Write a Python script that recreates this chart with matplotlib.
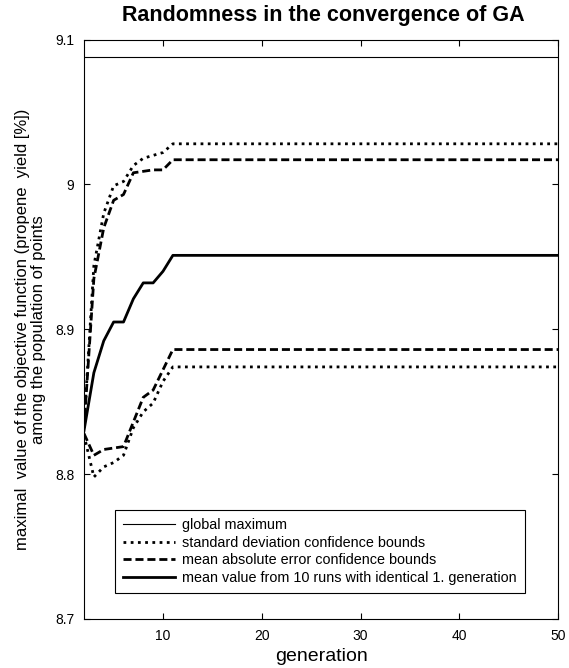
import matplotlib
matplotlib.use('Agg')
import matplotlib.pyplot as plt

# generations (the curves are flat after generation 11)
generation = [2, 3, 4, 5, 6, 7, 8, 9, 10, 11, 50]

mean_value = [8.830, 8.870, 8.892, 8.905, 8.905, 8.921, 8.932, 8.932, 8.940, 8.951, 8.951]
std_upper = [8.833, 8.944, 8.980, 8.999, 9.002, 9.013, 9.018, 9.020, 9.022, 9.028, 9.028]
std_lower = [8.827, 8.798, 8.805, 8.808, 8.813, 8.832, 8.843, 8.849, 8.864, 8.874, 8.874]
mae_upper = [8.832, 8.935, 8.970, 8.989, 8.993, 9.008, 9.009, 9.010, 9.010, 9.017, 9.017]
mae_lower = [8.828, 8.813, 8.817, 8.818, 8.819, 8.836, 8.853, 8.858, 8.872, 8.886, 8.886]
global_max = 9.088

x_ticks = [10, 20, 30, 40, 50]
y_ticks = [8.7, 8.8, 8.9, 9.0, 9.1]
y_tick_labels = ['8.7', '8.8', '8.9', '9', '9.1']

labels = ['global maximum',
          'standard deviation confidence bounds',
          'mean absolute error confidence bounds',
          'mean value from 10 runs with identical 1. generation']

plt.rcParams['font.family'] = ['Liberation Sans', 'DejaVu Sans']

fig = plt.figure(figsize=(5.69, 6.68), dpi=100)
ax = fig.add_axes([84 / 569, 1 - 619 / 668, 474 / 569, 579.5 / 668])

ax.plot([generation[0], generation[-1]], [global_max, global_max],
        color='black', linewidth=0.8, label=labels[0])

dot = (1.0, 1.6)
dash = (2.9, 1.4)
l1, = ax.plot(generation, std_upper, color='black', linewidth=2, label=labels[1])
l2, = ax.plot(generation, std_lower, color='black', linewidth=2)
l3, = ax.plot(generation, mae_upper, color='black', linewidth=2, label=labels[2])
l4, = ax.plot(generation, mae_lower, color='black', linewidth=2)
for ln in (l1, l2):
    ln.set_dashes(dot)
for ln in (l3, l4):
    ln.set_dashes(dash)
ax.plot(generation, mean_value, color='black', linewidth=2, label=labels[3])

ax.set_xlim(2, 50)
ax.set_ylim(8.7, 9.1)
ax.set_xticks(x_ticks)
ax.set_yticks(y_ticks)
ax.set_yticklabels(y_tick_labels)
ax.tick_params(direction='in', length=4, width=0.8, top=True, right=True,
               labelsize=10, colors='black', pad=7)
for sp in ax.spines.values():
    sp.set_linewidth(0.8)

ax.set_xlabel('generation', fontsize=14, labelpad=4)
ax.set_ylabel('maximal  value of the objective function (propene  yield [%])\n'
              'among the population of points', fontsize=12, linespacing=1.1)
ax.yaxis.set_label_coords(-0.08, 0.5)

fig.text(323 / 569, 1 - 15 / 668, 'Randomness in the convergence of GA',
         ha='center', va='center', fontsize=15.5, fontweight='bold')

leg = ax.legend(loc='lower left', bbox_to_anchor=(0.065, 0.045), fontsize=10.4,
                handlelength=3.6, handletextpad=0.5, labelspacing=0.25,
                borderpad=0.55, borderaxespad=0, fancybox=False,
                edgecolor='black', framealpha=1)
leg.get_frame().set_linewidth(0.8)

fig.savefig('out.png', dpi=100)
